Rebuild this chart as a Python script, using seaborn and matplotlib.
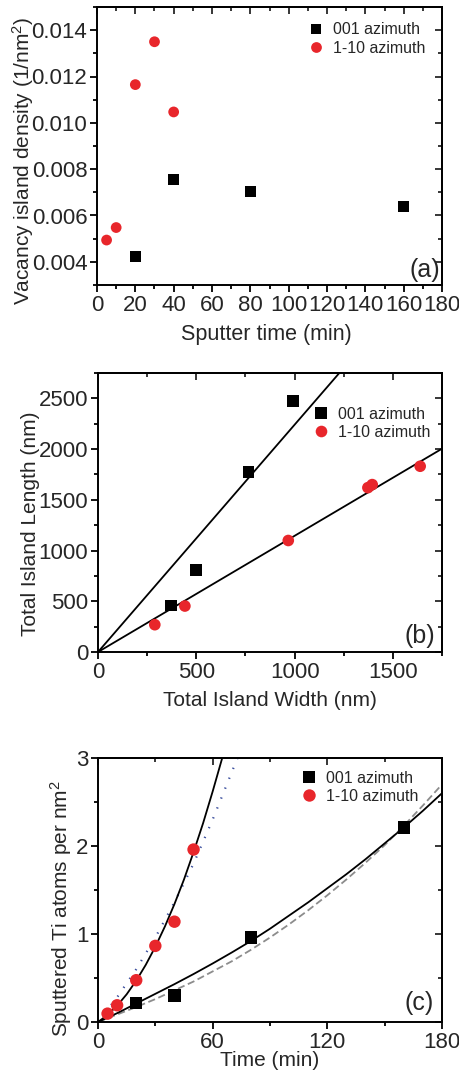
import matplotlib
matplotlib.use('Agg')
import matplotlib.pyplot as plt
import seaborn as sns
import pandas as pd
from matplotlib.ticker import MultipleLocator, FormatStrFormatter

# ---- data
# (a) vacancy island density vs sputter time
a_time_001 = [20, 40, 80, 160]
a_dens_001 = [0.00424, 0.00757, 0.00704, 0.00638]
a_time_110 = [5, 10, 20, 30, 40]
a_dens_110 = [0.00494, 0.00548, 0.01165, 0.0135, 0.01047]

# (b) total island length vs total island width
b_width_001 = [372, 497, 766, 993]
b_length_001 = [459, 810, 1772, 2477]
b_width_110 = [289, 442, 968, 1373, 1395, 1639]
b_length_110 = [269, 453, 1099, 1620, 1650, 1831]
b_slope_001 = 2.24      # linear fits through the origin
b_slope_110 = 1.145

# (c) sputtered Ti atoms per nm^2 vs time
c_time_001 = [20, 40, 80, 160]
c_atoms_001 = [0.216, 0.30, 0.96, 2.21]
c_time_110 = [5, 10, 20, 30, 40, 50]
c_atoms_110 = [0.095, 0.19, 0.475, 0.865, 1.14, 1.96]

# fitted curves in (c)
fit_110_t = [0, 5, 10, 15, 20, 25, 30, 35, 40, 45, 50, 55, 60, 65]
fit_110_y = [0, 0.08, 0.185, 0.315, 0.47, 0.65, 0.855, 1.085, 1.34, 1.62, 1.93, 2.26, 2.62, 3.0]
dot_110_t = [0, 10, 20, 30, 40, 50, 60, 70, 73]
dot_110_y = [0, 0.28, 0.60, 0.96, 1.36, 1.80, 2.30, 2.84, 3.0]
fit_001_t = [0, 10, 20, 30, 40, 50, 60, 70, 80, 90, 100, 110, 120, 130, 140, 150, 160, 170, 180]
fit_001_y = [0, 0.10, 0.21, 0.32, 0.43, 0.545, 0.665, 0.79, 0.92, 1.06, 1.21, 1.36, 1.52,
             1.68, 1.85, 2.03, 2.21, 2.40, 2.60]
dash_001_y = [0, 0.085, 0.17, 0.26, 0.36, 0.46, 0.575, 0.69, 0.82, 0.96, 1.11, 1.27, 1.44,
              1.62, 1.81, 2.01, 2.23, 2.46, 2.70]

labels = ['001 azimuth', '1-10 azimuth']
RED = '#e8262b'

sns.set_theme(style='ticks')
plt.rcParams['font.family'] = ['Liberation Sans', 'DejaVu Sans']
plt.rcParams['mathtext.default'] = 'regular'
plt.rcParams['axes.linewidth'] = 1.4


def make_df(x1, y1, x2, y2):
    return pd.DataFrame({'x': list(x1) + list(x2),
                         'y': list(y1) + list(y2),
                         'series': [labels[0]] * len(x1) + [labels[1]] * len(x2)})


def scatter(ax, df, s):
    sns.scatterplot(data=df, x='x', y='y', hue='series', style='series', hue_order=labels,
                    style_order=labels, markers={labels[0]: 's', labels[1]: 'o'},
                    palette={labels[0]: 'black', labels[1]: RED}, s=s, linewidth=0,
                    ax=ax, zorder=3)


def style_axes(ax, xmaj, xmin, ymaj, ymin):
    ax.xaxis.set_major_locator(MultipleLocator(xmaj))
    ax.xaxis.set_minor_locator(MultipleLocator(xmin))
    ax.yaxis.set_major_locator(MultipleLocator(ymaj))
    ax.yaxis.set_minor_locator(MultipleLocator(ymin))
    ax.tick_params(which='both', direction='out', width=1.3, labelsize=16, pad=2, color='black')
    ax.tick_params(which='major', length=5)
    ax.tick_params(which='minor', length=3)
    # mirrored ticks on top / right point inwards
    top = ax.secondary_xaxis('top')
    top.xaxis.set_major_locator(MultipleLocator(xmaj))
    top.xaxis.set_minor_locator(MultipleLocator(xmin))
    top.tick_params(which='both', direction='in', labeltop=False, width=1.3)
    top.tick_params(which='major', length=5)
    top.tick_params(which='minor', length=3)
    right = ax.secondary_yaxis('right')
    right.yaxis.set_major_locator(MultipleLocator(ymaj))
    right.yaxis.set_minor_locator(MultipleLocator(ymin))
    right.tick_params(which='both', direction='in', labelright=False, width=1.3)
    right.tick_params(which='major', length=5)
    right.tick_params(which='minor', length=3)
    for sp in ax.spines.values():
        sp.set_visible(True)
        sp.set_color('black')


def legend(ax, anchor):
    sns.move_legend(ax, 'upper right', bbox_to_anchor=anchor, title=None, frameon=False,
                    fontsize=11.5, handlelength=1.0, handletextpad=0.6, labelspacing=0.2,
                    borderaxespad=0.3)


fig = plt.figure(figsize=(4.6, 10.71), dpi=100)
W, H = 460, 1071


def place(left, right, top, bottom):
    return fig.add_axes([left / W, 1 - bottom / H, (right - left) / W, (bottom - top) / H])


# ---- (a)
ax1 = place(97, 442, 7, 285)
scatter(ax1, make_df(a_time_001, a_dens_001, a_time_110, a_dens_110), 60)
ax1.set_xlim(0, 180)
ax1.set_ylim(0.003, 0.015)
style_axes(ax1, 20, 10, 0.002, 0.001)
ax1.yaxis.set_major_formatter(FormatStrFormatter('%.3f'))
ax1.set_xlabel('Sputter time (min)', fontsize=15.5)
ax1.set_ylabel('Vacancy island density (1/nm$^2$)', fontsize=15)
ax1.xaxis.set_label_coords(0.49, -0.14)
ax1.yaxis.set_label_coords(-0.178, 0.445)
ax1.text(0.995, 0.01, '(a)', transform=ax1.transAxes, ha='right', va='bottom', fontsize=18)
legend(ax1, (0.985, 0.985))

# ---- (b)
ax2 = place(98, 442, 373, 652)
ax2.axline((0, 0), slope=b_slope_001, color='black', lw=1.3, zorder=2)
ax2.axline((0, 0), slope=b_slope_110, color='black', lw=1.3, zorder=2)
scatter(ax2, make_df(b_width_001, b_length_001, b_width_110, b_length_110), 70)
ax2.set_xlim(0, 1750)
ax2.set_ylim(0, 2750)
style_axes(ax2, 500, 250, 500, 250)
ax2.set_xlabel('Total Island Width (nm)', fontsize=15)
ax2.set_ylabel('Total Island Length (nm)', fontsize=15)
ax2.xaxis.set_label_coords(0.5, -0.14)
ax2.yaxis.set_label_coords(-0.17, 0.46)
ax2.text(0.98, 0.015, '(b)', transform=ax2.transAxes, ha='right', va='bottom', fontsize=18)
legend(ax2, (1.0, 0.92))

# ---- (c)
ax3 = place(98, 442, 758, 1022)
sns.lineplot(x=dot_110_t, y=dot_110_y, ax=ax3, color='#3b4f9e', lw=1.6,
             linestyle=(0, (0.6, 4.2)), estimator=None, sort=False, zorder=1)
sns.lineplot(x=fit_001_t, y=dash_001_y, ax=ax3, color='#8c8c8c', lw=1.3,
             linestyle=(0, (4, 2)), estimator=None, sort=False, zorder=1)
sns.lineplot(x=fit_110_t, y=fit_110_y, ax=ax3, color='black', lw=1.3,
             estimator=None, sort=False, zorder=2)
sns.lineplot(x=fit_001_t, y=fit_001_y, ax=ax3, color='black', lw=1.3,
             estimator=None, sort=False, zorder=2)
scatter(ax3, make_df(c_time_001, c_atoms_001, c_time_110, c_atoms_110), 80)
ax3.set_xlim(0, 180)
ax3.set_ylim(0, 3)
style_axes(ax3, 60, 30, 1, 0.5)
ax3.tick_params(axis='x', pad=2)
ax3.set_xlabel('Time (min)', fontsize=15)
ax3.set_ylabel('Sputtered Ti atoms per nm$^2$', fontsize=15)
ax3.xaxis.set_label_coords(0.5, -0.108)
ax3.yaxis.set_label_coords(-0.07, 0.43)
ax3.text(0.975, 0.025, '(c)', transform=ax3.transAxes, ha='right', va='bottom', fontsize=18)
legend(ax3, (0.965, 0.995))

fig.savefig('out.png', dpi=100)
